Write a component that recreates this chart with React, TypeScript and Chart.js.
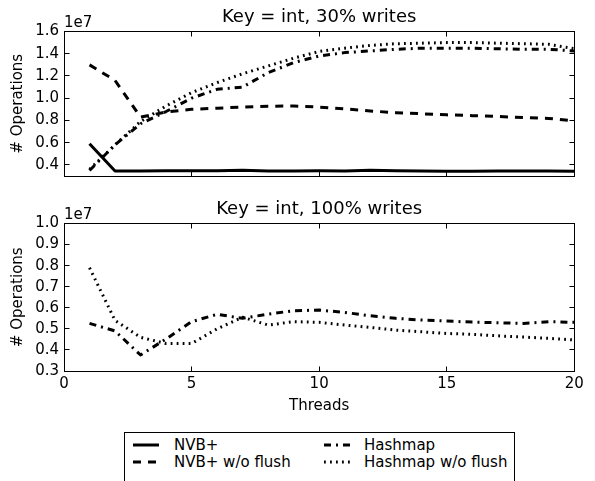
import React, { useEffect, useRef } from "react";
import { Chart, registerables } from "chart.js";

Chart.register(...registerables);

const FONT = '"DejaVu Sans", sans-serif';

// ---- data (values in units of 1e7 operations) ----
const threads = [1, 2, 3, 4, 5, 6, 7, 8, 9, 10, 11, 12, 13, 14, 15, 16, 17, 18, 19, 20];
const xTicks = [0, 5, 10, 15, 20];
const topYTicks = [0.4, 0.6, 0.8, 1.0, 1.2, 1.4, 1.6];
const bottomYTicks = [0.3, 0.4, 0.5, 0.6, 0.7, 0.8, 0.9, 1.0];

const topTitle = "Key = int, 30% writes";
const bottomTitle = "Key = int, 100% writes";
const offsetText = "1e7";
const yTitle = "# Operations";
const xTitle = "Threads";

const nvbTop = [0.59, 0.345, 0.346, 0.347, 0.347, 0.347, 0.352, 0.346, 0.346, 0.347, 0.346, 0.352, 0.348, 0.345, 0.343, 0.343, 0.344, 0.345, 0.345, 0.343];
const nvbNoFlushTop = [1.3, 1.16, 0.83, 0.875, 0.9, 0.91, 0.92, 0.928, 0.93, 0.92, 0.905, 0.885, 0.87, 0.86, 0.85, 0.843, 0.835, 0.826, 0.818, 0.795];
const hashTop = [0.35, 0.58, 0.77, 0.88, 1.0, 1.08, 1.1, 1.23, 1.32, 1.38, 1.41, 1.425, 1.44, 1.45, 1.45, 1.45, 1.445, 1.44, 1.44, 1.425];
const hashNoFlushTop = [0.36, 0.58, 0.79, 0.93, 1.05, 1.14, 1.22, 1.29, 1.36, 1.42, 1.45, 1.475, 1.49, 1.495, 1.5, 1.5, 1.495, 1.49, 1.485, 1.445];

const hashBottom = [0.526, 0.49, 0.376, 0.452, 0.534, 0.569, 0.55, 0.57, 0.586, 0.589, 0.578, 0.562, 0.55, 0.542, 0.537, 0.532, 0.529, 0.526, 0.534, 0.531];
const hashNoFlushBottom = [0.79, 0.54, 0.46, 0.43, 0.43, 0.5, 0.555, 0.518, 0.534, 0.531, 0.518, 0.507, 0.494, 0.486, 0.478, 0.474, 0.467, 0.461, 0.455, 0.447];

const seriesNames = ["NVB+", "NVB+ w/o flush", "Hashmap", "Hashmap w/o flush"];

// ---- styles ----
const dashes: Record<string, number[]> = {
  "NVB+": [],
  "NVB+ w/o flush": [8, 7],
  "Hashmap": [7, 5, 2, 5],
  "Hashmap w/o flush": [1.8, 4.2],
};

const framePlugin = {
  id: "frameTicks",
  afterDraw(chart: any) {
    const { ctx, chartArea: a, scales } = chart;
    const L = Math.floor(a.left) + 0.5;
    const R = Math.floor(a.right) + 0.5;
    const T = Math.floor(a.top) + 0.5;
    const B = Math.floor(a.bottom) + 0.5;
    ctx.save();
    ctx.strokeStyle = "#000";
    ctx.lineWidth = 1;
    ctx.setLineDash([]);
    ctx.strokeRect(L, T, R - L, B - T);
    const tl = 5;
    ctx.beginPath();
    scales.x.ticks.forEach((t: any) => {
      const px = Math.floor(scales.x.getPixelForValue(t.value)) + 0.5;
      ctx.moveTo(px, T);
      ctx.lineTo(px, T + tl);
      ctx.moveTo(px, B);
      ctx.lineTo(px, B - tl);
    });
    scales.y.ticks.forEach((t: any) => {
      const py = Math.floor(scales.y.getPixelForValue(t.value)) + 0.5;
      ctx.moveTo(L, py);
      ctx.lineTo(L + tl, py);
      ctx.moveTo(R, py);
      ctx.lineTo(R - tl, py);
    });
    ctx.stroke();
    ctx.fillStyle = "#000";
    ctx.font = `15px ${FONT}`;
    ctx.textAlign = "left";
    ctx.textBaseline = "alphabetic";
    ctx.fillText(offsetText, a.left, a.top - 5);
    ctx.restore();
  },
};

type Series = { name: string; values: number[] };

function Panel(props: {
  top: number;
  height: number;
  title: string;
  series: Series[];
  yMin: number;
  yMax: number;
  yTicks: number[];
  showX: boolean;
}) {
  const ref = useRef<HTMLCanvasElement>(null);
  useEffect(() => {
    const { title, series, yMin, yMax, yTicks, showX } = props;
    const font = { family: FONT, size: 15, weight: "normal" as const };
    const chart = new Chart(ref.current!, {
      type: "line",
      data: {
        datasets: series.map((s) => ({
          label: s.name,
          data: threads.map((t, i) => ({ x: t, y: s.values[i] })),
          borderColor: "#000",
          backgroundColor: "#000",
          borderWidth: 3,
          borderDash: dashes[s.name],
          borderCapStyle: "butt",
          borderJoinStyle: "round",
          pointRadius: 0,
          tension: 0,
          fill: false,
        })),
      },
      options: {
        responsive: false,
        animation: false,
        devicePixelRatio: 1,
        layout: { padding: { left: 5, right: 20.7, top: 0, bottom: showX ? 0 : 11.7 } },
        plugins: {
          legend: { display: false },
          tooltip: { enabled: false },
          title: {
            display: true,
            text: title,
            fullSize: false,
            color: "#000",
            font: { family: FONT, size: 18, weight: "normal" },
            padding: { top: 6.5, bottom: 3.4 },
          },
        },
        scales: {
          x: {
            type: "linear",
            min: 0,
            max: 20,
            afterBuildTicks: (s: any) => {
              s.ticks = xTicks.map((v) => ({ value: v }));
            },
            grid: { display: false, drawTicks: false },
            border: { display: false },
            ticks: {
              display: showX,
              padding: 4,
              color: "#000",
              font,
              maxRotation: 0,
              autoSkip: false,
              callback: (v: any) => String(v),
            },
            title: {
              display: showX,
              text: xTitle,
              color: "#000",
              font,
              padding: { top: 0, bottom: 7 },
            },
            afterFit: (s: any) => {
              s.height = showX ? 51 : 0;
            },
          },
          y: {
            type: "linear",
            min: yMin,
            max: yMax,
            afterBuildTicks: (s: any) => {
              s.ticks = yTicks.map((v) => ({ value: v }));
            },
            grid: { display: false, drawTicks: false },
            border: { display: false },
            ticks: {
              padding: 5,
              color: "#000",
              font,
              autoSkip: false,
              callback: (v: any) => Number(v).toFixed(1),
            },
            title: {
              display: true,
              text: yTitle,
              color: "#000",
              font,
              padding: { top: 4, bottom: 0 },
            },
            afterFit: (s: any) => {
              s.width = 59;
            },
          },
        },
      } as any,
      plugins: [framePlugin],
    });
    return () => chart.destroy();
  }, []);
  return (
    <canvas
      ref={ref}
      width={595}
      height={props.height}
      style={{ position: "absolute", left: 0, top: props.top, width: 595, height: props.height }}
    />
  );
}

function Legend() {
  const cols = [
    { sx: 133, tx: 174 },
    { sx: 324, tx: 364 },
  ];
  const rowsY = [445, 462];
  return (
    <div>
      <div
        style={{
          position: "absolute",
          left: 124,
          top: 432,
          width: 389,
          height: 80,
          border: "1px solid #000",
          background: "#fff",
        }}
      />
      {seriesNames.map((name, i) => {
        const col = cols[Math.floor(i / 2)];
        const y = rowsY[i % 2];
        return (
          <React.Fragment key={name}>
            <svg
              width={26}
              height={8}
              style={{ position: "absolute", left: col.sx, top: y - 4 }}
            >
              <line
                x1={0}
                y1={4}
                x2={26}
                y2={4}
                stroke="#000"
                strokeWidth={3}
                strokeDasharray={dashes[name].length ? dashes[name].join(" ") : undefined}
              />
            </svg>
            <span
              style={{
                position: "absolute",
                left: col.tx,
                top: y - 8.7,
                fontFamily: FONT,
                fontSize: 15,
                lineHeight: "18px",
                whiteSpace: "nowrap",
                color: "#000",
              }}
            >
              {name}
            </span>
          </React.Fragment>
        );
      })}
    </div>
  );
}

export default function App() {
  return (
    <div
      style={{
        position: "absolute",
        left: 0,
        top: 0,
        width: 595,
        height: 481,
        overflow: "hidden",
        background: "#fff",
      }}
    >
      <Panel
        top={0}
        height={190}
        title={topTitle}
        series={[
          { name: seriesNames[0], values: nvbTop },
          { name: seriesNames[1], values: nvbNoFlushTop },
          { name: seriesNames[2], values: hashTop },
          { name: seriesNames[3], values: hashNoFlushTop },
        ]}
        yMin={0.3}
        yMax={1.6}
        yTicks={topYTicks}
        showX={false}
      />
      <Panel
        top={192}
        height={230}
        title={bottomTitle}
        series={[
          { name: seriesNames[2], values: hashBottom },
          { name: seriesNames[3], values: hashNoFlushBottom },
        ]}
        yMin={0.3}
        yMax={1.0}
        yTicks={bottomYTicks}
        showX={true}
      />
      <Legend />
    </div>
  );
}
